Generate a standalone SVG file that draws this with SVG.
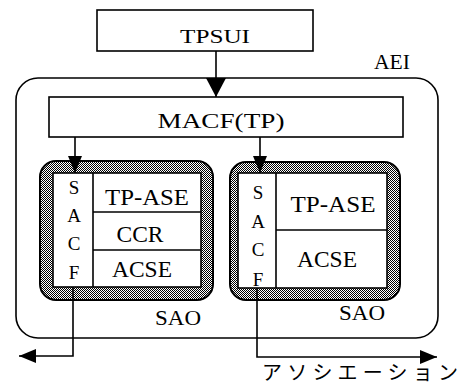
<svg xmlns="http://www.w3.org/2000/svg" width="467" height="386" viewBox="0 0 467 386">
<style>
.box{fill:#fff;stroke:#000;stroke-width:1.6}
.ln{fill:none;stroke:#000;stroke-width:1.6}
.t{font-family:"Liberation Serif","Times New Roman",serif;fill:#000;text-anchor:middle}
.jp{font-family:"Noto Sans CJK JP",sans-serif;fill:#000}
.sh{fill:url(#dots);stroke:#000;stroke-width:2}
</style>
<defs>
<pattern id="dots" width="2" height="2" patternUnits="userSpaceOnUse">
<rect width="2" height="2" fill="#fff"/>
<rect width="1" height="1" fill="#000"/>
<rect x="1" y="1" width="1" height="1" fill="#000"/>
</pattern>
<marker id="ah" markerUnits="userSpaceOnUse" markerWidth="18" markerHeight="14" refX="17" refY="7" orient="auto">
<path d="M0,0 L17,7 L0,14 Z" fill="#000"/>
</marker>
<marker id="ahb" markerUnits="userSpaceOnUse" markerWidth="20" markerHeight="20" refX="19" refY="10" orient="auto">
<path d="M0,0 L19,10 L0,20 Z" fill="#000"/>
</marker>
</defs>

<g id="aei">
<rect x="16" y="78" width="422" height="260" rx="22" class="ln"/>
<text class="t" x="392" y="69" font-size="20" textLength="36" lengthAdjust="spacingAndGlyphs">AEI</text>
</g>

<g id="tpsui">
<rect x="97" y="10" width="216" height="41" class="box"/>
<text class="t" x="215" y="43" font-size="19" textLength="70" lengthAdjust="spacingAndGlyphs">TPSUI</text>
</g>

<g id="macf">
<rect x="49" y="97" width="354" height="40" class="box"/>
<text class="t" x="221" y="128" font-size="22" textLength="127" lengthAdjust="spacingAndGlyphs">MACF(TP)</text>
</g>

<g id="sao-left">
<rect x="40" y="161" width="173" height="139" rx="16" class="sh"/>
<rect x="53" y="173" width="148" height="114" class="box"/>
<line x1="93" y1="173" x2="93" y2="287" class="ln"/>
<line x1="93" y1="212" x2="201" y2="212" class="ln"/>
<line x1="93" y1="250" x2="201" y2="250" class="ln"/>
<text class="t" x="74" y="194" font-size="19">S</text>
<text class="t" x="74" y="222" font-size="19">A</text>
<text class="t" x="74" y="250" font-size="19">C</text>
<text class="t" x="74" y="279" font-size="19">F</text>
<text class="t" x="147" y="205" font-size="23" textLength="84" lengthAdjust="spacingAndGlyphs">TP-ASE</text>
<text class="t" x="140" y="242" font-size="23" textLength="47" lengthAdjust="spacingAndGlyphs">CCR</text>
<text class="t" x="142" y="277" font-size="23" textLength="60" lengthAdjust="spacingAndGlyphs">ACSE</text>
<text class="t" x="178" y="325" font-size="21" textLength="46" lengthAdjust="spacingAndGlyphs">SAO</text>
</g>

<g id="sao-right">
<rect x="230" y="162" width="170" height="138" rx="16" class="sh"/>
<rect x="238" y="173" width="149" height="115" class="box"/>
<line x1="276" y1="173" x2="276" y2="288" class="ln"/>
<line x1="276" y1="230" x2="387" y2="230" class="ln"/>
<text class="t" x="258" y="199" font-size="19">S</text>
<text class="t" x="258" y="228" font-size="19">A</text>
<text class="t" x="258" y="256" font-size="19">C</text>
<text class="t" x="258" y="286" font-size="19">F</text>
<text class="t" x="333" y="212" font-size="23" textLength="85" lengthAdjust="spacingAndGlyphs">TP-ASE</text>
<text class="t" x="327" y="267" font-size="23" textLength="60" lengthAdjust="spacingAndGlyphs">ACSE</text>
<text class="t" x="362" y="320" font-size="21" textLength="46" lengthAdjust="spacingAndGlyphs">SAO</text>
</g>

<g id="connectors">
<line x1="216" y1="51" x2="216" y2="97" class="ln" marker-end="url(#ahb)"/>
<line x1="75" y1="137" x2="75" y2="173" class="ln" marker-end="url(#ah)"/>
<line x1="260" y1="137" x2="260" y2="173" class="ln" marker-end="url(#ah)"/>
<polyline points="73,287 73,356 19,356" class="ln" marker-end="url(#ah)"/>
<polyline points="257,288 257,357 437,357" class="ln" marker-end="url(#ah)"/>
</g>

<text class="jp" x="262" y="380" font-size="20" textLength="196" lengthAdjust="spacing">アソシエーション</text>
</svg>
